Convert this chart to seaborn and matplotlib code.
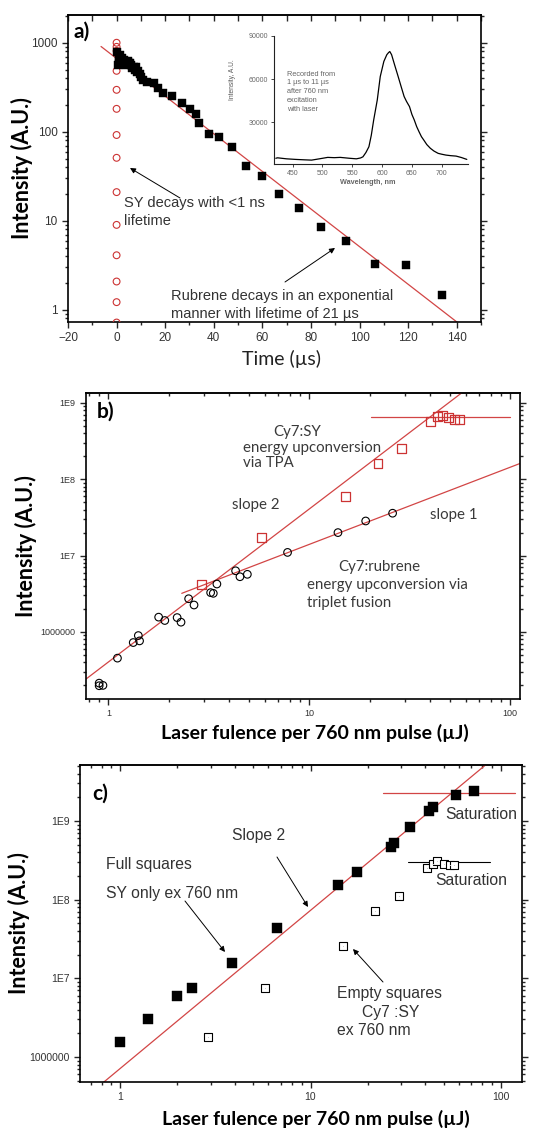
"""
Three-panel figure: delayed emission decay (a), and upconversion
intensity vs laser fluence for Cy7:SY / Cy7:rubrene (b, c).
"""
import seaborn as sns
import matplotlib.pyplot as plt
from matplotlib.ticker import MultipleLocator, NullFormatter

sns.set_style('ticks')
plt.rcParams['font.family'] = ['Liberation Sans', 'DejaVu Sans']

RED = '#cc3333'
LRED = '#d24545'
GREY = '#333333'

#--------------------------
# PANEL A: decay traces
#--------------------------
sy_t = [0, 0, 0, 0, 0, 0, 0, 0, 0, 0, 0, 0, 0, 0]
sy_I = [1000, 900, 810, 484, 296, 181, 92, 51, 21, 9.0, 4.1, 2.08, 1.22, 0.72]

rub_t = [0.3, 0.5, 0.8, 1.0, 1.3, 1.6, 2.0, 2.4, 2.8, 3.2, 3.6, 4.0, 4.5, 5.0, 5.5,
         6.0, 6.5, 7.0, 7.5, 8.0, 8.5, 9.0, 9.5, 10.0, 11.0, 12.4, 15.2, 17.2, 19.3,
         22.8, 26.9, 30.3, 32.5, 34.0, 37.9, 42.3, 47.5, 53.3, 60.0, 67.0, 75.0, 84.3,
         94.5, 106.3, 119.3, 133.8]
rub_I = [780, 560, 700, 650, 620, 720, 600, 680, 590, 640, 610, 560, 620, 590, 600,
         560, 520, 540, 500, 530, 470, 480, 450, 410, 380, 367, 352, 309, 272,
         250, 210, 180, 160, 127, 94, 88.5, 66.6, 41.8, 31.5, 20, 13.9, 8.5,
         6.0, 3.3, 3.2, 1.48]

# exponential fit (tau = 21 us), given by its two end points
fit_t = [-6.4, 145]
fit_I = [908, 0.574]

# inset: emission spectrum
wl = [422, 425, 440, 455, 470, 482, 495, 509, 520, 530, 545, 557, 564, 568, 573, 578,
      582, 586, 592, 597, 603, 608, 611, 613, 616, 621, 627, 632, 637, 641, 646, 650,
      654, 658, 662, 666, 670, 675, 681, 687, 694, 700, 707, 715, 724, 733, 742]
spec = [5000, 5300, 4600, 4200, 3900, 3700, 4600, 5600, 5400, 5600, 5000, 4600, 5200,
        6000, 9000, 13000, 21000, 31600, 45500, 61800, 72300, 77000, 78500, 79200,
        77000, 70000, 61800, 54800, 47900, 44500, 40900, 35500, 31600, 27000, 23400,
        20000, 17600, 14500, 11900, 10000, 8400, 7800, 7200, 6800, 6500, 5500, 4200]

#--------------------------
# PANEL B
#--------------------------
sy_b_x = [2.9, 5.8, 15.1, 22.0, 28.8, 40.3, 43.5, 45.9, 49.5, 53.1, 56.2]
sy_b_y = [4.14e6, 1.74e7, 5.9e7, 1.61e8, 2.5e8, 5.65e8, 6.6e8, 6.9e8, 6.45e8, 6.07e8, 6.07e8]

rub_b_x = [0.90, 0.90, 0.94, 1.11, 1.33, 1.41, 1.43, 1.78, 1.91, 2.20, 2.30, 2.51,
           2.67, 3.23, 3.33, 3.47, 4.30, 4.52, 4.92, 7.8, 13.9, 19.1, 26.0]
rub_b_y = [2.13e5, 1.97e5, 1.99e5, 4.53e5, 7.25e5, 8.95e5, 7.62e5, 1.56e6, 1.41e6,
           1.54e6, 1.34e6, 2.72e6, 2.25e6, 3.27e6, 3.2e6, 4.24e6, 6.32e6, 5.28e6,
           5.68e6, 1.10e7, 2.0e7, 2.84e7, 3.59e7]

slope2_b_x = [0.774, 57.3]
slope2_b_y = [2.41e5, 1.35e9]
slope1_b_x = [2.32, 112]
slope1_b_y = [3.2e6, 1.61e8]
sat_b_x = [20.2, 100]
sat_b_y = [6.5e8, 6.5e8]

#--------------------------
# PANEL C
#--------------------------
full_x = [1.0, 1.40, 1.99, 2.38, 3.89, 6.66, 13.9, 17.5, 26.4, 27.3, 33.4, 41.7, 43.8, 58.1, 72.5]
full_y = [1.56e6, 3.03e6, 5.94e6, 7.43e6, 1.57e7, 4.31e7, 1.54e8, 2.26e8, 4.71e8,
          5.3e8, 8.3e8, 1.35e9, 1.49e9, 2.14e9, 2.41e9]
empty_x = [2.88, 5.78, 14.9, 21.9, 29.0, 40.9, 43.8, 46.1, 50.0, 54.2, 56.9]
empty_y = [1.8e6, 7.57e6, 2.6e7, 7.16e7, 1.12e8, 2.5e8, 2.81e8, 3.1e8, 2.84e8, 2.75e8, 2.75e8]

slope_c_x = [0.7, 100]
slope_c_y = [3.47e5, 7.5e9]
sat_c_red_x = [24.0, 119]
sat_c_red_y = [2.29e9, 2.29e9]
sat_c_blk_x = [32.7, 87.9]
sat_c_blk_y = [3.0e8, 3.0e8]

log_ticks = [1e6, 1e7, 1e8, 1e9]
log_tick_labels = ['1000000', '1E7', '1E8', '1E9']
x_log_ticks = [1, 10, 100]
x_log_labels = ['1', '10', '100']

#--------------------------
# FIGURE
#--------------------------
W, H = 542, 1130
fig = plt.figure(figsize=(W / 100, H / 100), dpi=100)


def box(l, t, r, b):
    return [l / W, 1 - b / H, (r - l) / W, (b - t) / H]


def fpt(px, py):
    return (px / W, 1 - py / H)


def txt(s, px, py, size, **kw):
    kw.setdefault('color', GREY)
    fig.text(px / W, 1 - py / H, s, fontsize=size, va='baseline', **kw)


def arrow(ax, tail, head):
    ax.annotate('', xy=fpt(*head), xycoords='figure fraction',
                xytext=fpt(*tail), textcoords='figure fraction',
                arrowprops=dict(arrowstyle='-|>', color='black', lw=0.7,
                                mutation_scale=8, shrinkA=0, shrinkB=0),
                annotation_clip=False)


def frame(ax, size):
    for s in ax.spines.values():
        s.set_color('black')
        s.set_linewidth(1.2)
    ax.tick_params(which='both', direction='out', right=True, top=False,
                   labelsize=size, labelcolor=GREY, width=1.0)
    ax.tick_params(which='major', length=4)
    ax.tick_params(which='minor', length=2.2)
    sec = ax.secondary_xaxis('top')
    sec.tick_params(which='both', direction='in', labeltop=False, width=1.0)
    sec.tick_params(which='major', length=4)
    sec.tick_params(which='minor', length=2.2)
    sec.spines['top'].set_linewidth(1.2)
    return sec


YLAB = dict(family='Lato', weight='bold', fontsize=15.5, color='black', va='center')
XLAB = dict(family='Lato', weight='bold', fontsize=14, color='black', va='center')

ax_a = fig.add_axes(box(68, 15, 481, 322))
ax_b = fig.add_axes(box(86, 393, 520, 699))
ax_c = fig.add_axes(box(80, 765, 522, 1082))

# ---- a ----
ax_a.set_yscale('log')
ax_a.set_xlim(-20, 150)
ax_a.set_ylim(0.73, 2050)
ax_a.plot(fit_t, fit_I, color=LRED, lw=0.9, zorder=2)
sns.scatterplot(x=sy_t, y=sy_I, ax=ax_a, marker='o', s=24, facecolor='none',
                edgecolor=RED, linewidth=0.8, zorder=3)
sns.scatterplot(x=rub_t, y=rub_I, ax=ax_a, marker='s', s=34, color='black',
                edgecolor='black', linewidth=0.3, zorder=4)
ax_a.set_xticks(range(-20, 141, 20))
ax_a.xaxis.set_minor_locator(MultipleLocator(10))
ax_a.set_yticks([1, 10, 100, 1000], ['1', '10', '100', '1000'])
sec = frame(ax_a, 8.5)
sec.xaxis.set_major_locator(MultipleLocator(10))
sec.xaxis.set_minor_locator(MultipleLocator(10))
ax_a.set_ylabel('Intensity (A.U.)', **YLAB)
ax_a.yaxis.set_label_coords((22 - 68) / 413, 0.5)
ax_a.set_xlabel('Time (µs)', family='Lato', fontsize=14, color='#222222', va='center')
ax_a.xaxis.set_label_coords((281 - 68) / 413, (322 - 359) / 307)

txt('a)', 73, 38, 15, weight='bold', family='Lato', color='black')
txt('SY decays with <1 ns', 124, 207, 10.5)
txt('lifetime', 124, 225, 10.5)
txt('Rubrene decays in an exponential', 171, 300, 10.5)
txt('manner with lifetime of 21 µs', 171, 318, 10.5)
arrow(ax_a, (180, 198), (130, 168))
arrow(ax_a, (285, 282), (335, 248))

# inset
ax_in = fig.add_axes(box(274, 36, 468, 164))
ax_in.patch.set_alpha(0)
sns.lineplot(x=wl, y=spec, ax=ax_in, color='black', linewidth=0.9)
ax_in.set_xlim(419, 744)
ax_in.set_ylim(1000, 90000)
ax_in.set_xticks(range(450, 701, 50))
ax_in.set_yticks([30000, 60000, 90000])
sns.despine(ax=ax_in)
for s in ('left', 'bottom'):
    ax_in.spines[s].set_linewidth(0.8)
    ax_in.spines[s].set_color('#222222')
ax_in.tick_params(labelsize=5, labelcolor='#666666', length=2, width=0.6, pad=2)
ax_in.set_xlabel('')
ax_in.set_ylabel('')
fig.text(232 / W, 1 - 80 / H, 'Intensity, A.U.', rotation=90, fontsize=4.8,
         color='#555555', ha='center', va='center')
fig.text(368 / W, 1 - 183 / H, 'Wavelength, nm', fontsize=5.2, color='#666666',
         ha='center', va='center', weight='bold')
for i, line in enumerate(['Recorded from', '1 µs to 11 µs', 'after 760 nm',
                          'excitation', 'with laser']):
    txt(line, 287, 75.5 + 8.8 * i, 5.3, color='#666666')

# ---- b ----
ax_b.set_xscale('log')
ax_b.set_yscale('log')
ax_b.set_xlim(0.774, 112)
ax_b.set_ylim(1.32e5, 1.35e9)
ax_b.plot(slope2_b_x, slope2_b_y, color=LRED, lw=0.9, zorder=2)
ax_b.plot(slope1_b_x, slope1_b_y, color=LRED, lw=0.9, zorder=2)
ax_b.plot(sat_b_x, sat_b_y, color=LRED, lw=0.9, zorder=2)
sns.scatterplot(x=sy_b_x, y=sy_b_y, ax=ax_b, marker='s', s=40, facecolor='none',
                edgecolor=RED, linewidth=0.9, zorder=3)
sns.scatterplot(x=rub_b_x, y=rub_b_y, ax=ax_b, marker='o', s=30, facecolor='none',
                edgecolor='black', linewidth=0.8, zorder=3)
ax_b.set_xticks(x_log_ticks, x_log_labels)
ax_b.set_yticks(log_ticks, log_tick_labels)
ax_b.xaxis.set_minor_formatter(NullFormatter())
frame(ax_b, 6.5)
ax_b.set_ylabel('Intensity (A.U.)', **YLAB)
ax_b.yaxis.set_label_coords((25.5 - 86) / 434, 0.5)
ax_b.set_xlabel('Laser fulence per 760 nm pulse (µJ)', **XLAB)
ax_b.xaxis.set_label_coords((315 - 86) / 434, (699 - 733) / 306)

txt('b)', 97, 418, 15, weight='bold', family='Lato', color='black')
bk = dict(family='Lato', color='#3a3a3a')
txt('Cy7:SY', 273, 436, 10.8, **bk)
txt('energy upconversion', 243, 452, 10.8, **bk)
txt('via TPA', 243, 467, 10.8, **bk)
txt('slope 2', 232, 508.5, 10.8, **bk)
txt('slope 1', 430, 519.5, 10.8, **bk)
txt('Cy7:rubrene', 338, 571, 10.8, **bk)
txt('energy upconversion via', 307, 588.5, 10.8, **bk)
txt('triplet fusion', 307, 607, 10.8, **bk)

# ---- c ----
ax_c.set_xscale('log')
ax_c.set_yscale('log')
ax_c.set_xlim(0.616, 129)
ax_c.set_ylim(4.8e5, 5.15e9)
ax_c.plot(slope_c_x, slope_c_y, color=LRED, lw=0.9, zorder=2)
ax_c.plot(sat_c_red_x, sat_c_red_y, color=LRED, lw=0.9, zorder=2)
ax_c.plot(sat_c_blk_x, sat_c_blk_y, color='black', lw=0.8, zorder=2)
sns.scatterplot(x=full_x, y=full_y, ax=ax_c, marker='s', s=55, color='black',
                edgecolor='black', linewidth=0.3, zorder=4)
sns.scatterplot(x=empty_x, y=empty_y, ax=ax_c, marker='s', s=34, facecolor='white',
                edgecolor='black', linewidth=0.8, zorder=3)
sns.scatterplot(x=empty_x, y=empty_y, ax=ax_c, marker='.', s=2, color='black',
                linewidth=0, zorder=5)
ax_c.set_xticks(x_log_ticks, x_log_labels)
ax_c.set_yticks(log_ticks, log_tick_labels)
ax_c.xaxis.set_minor_formatter(NullFormatter())
frame(ax_c, 7.5)
ax_c.set_ylabel('Intensity (A.U.)', **YLAB)
ax_c.yaxis.set_label_coords((19 - 80) / 442, 0.5)
ax_c.set_xlabel('Laser fulence per 760 nm pulse (µJ)', **XLAB)
ax_c.xaxis.set_label_coords((316 - 80) / 442, (1082 - 1119) / 317)

txt('c)', 92, 800, 15, weight='bold', family='Lato', color='black')
txt('Slope 2', 232, 840, 11.3)
txt('Full squares', 106, 869.5, 11.3)
txt('SY only ex 760 nm', 106, 898, 11.3)
txt('Saturation', 445, 819, 11.3)
txt('Saturation', 435, 885, 11.3)
txt('Empty squares', 337, 998, 11.3)
txt('Cy7 :SY', 362, 1017, 11.3)
txt('ex 760 nm', 337, 1035, 11.3)
arrow(ax_c, (277, 857), (308, 907))
arrow(ax_c, (185, 901), (225, 952))
arrow(ax_c, (383, 982), (353, 949))

plt.savefig('out.png', dpi=100)
